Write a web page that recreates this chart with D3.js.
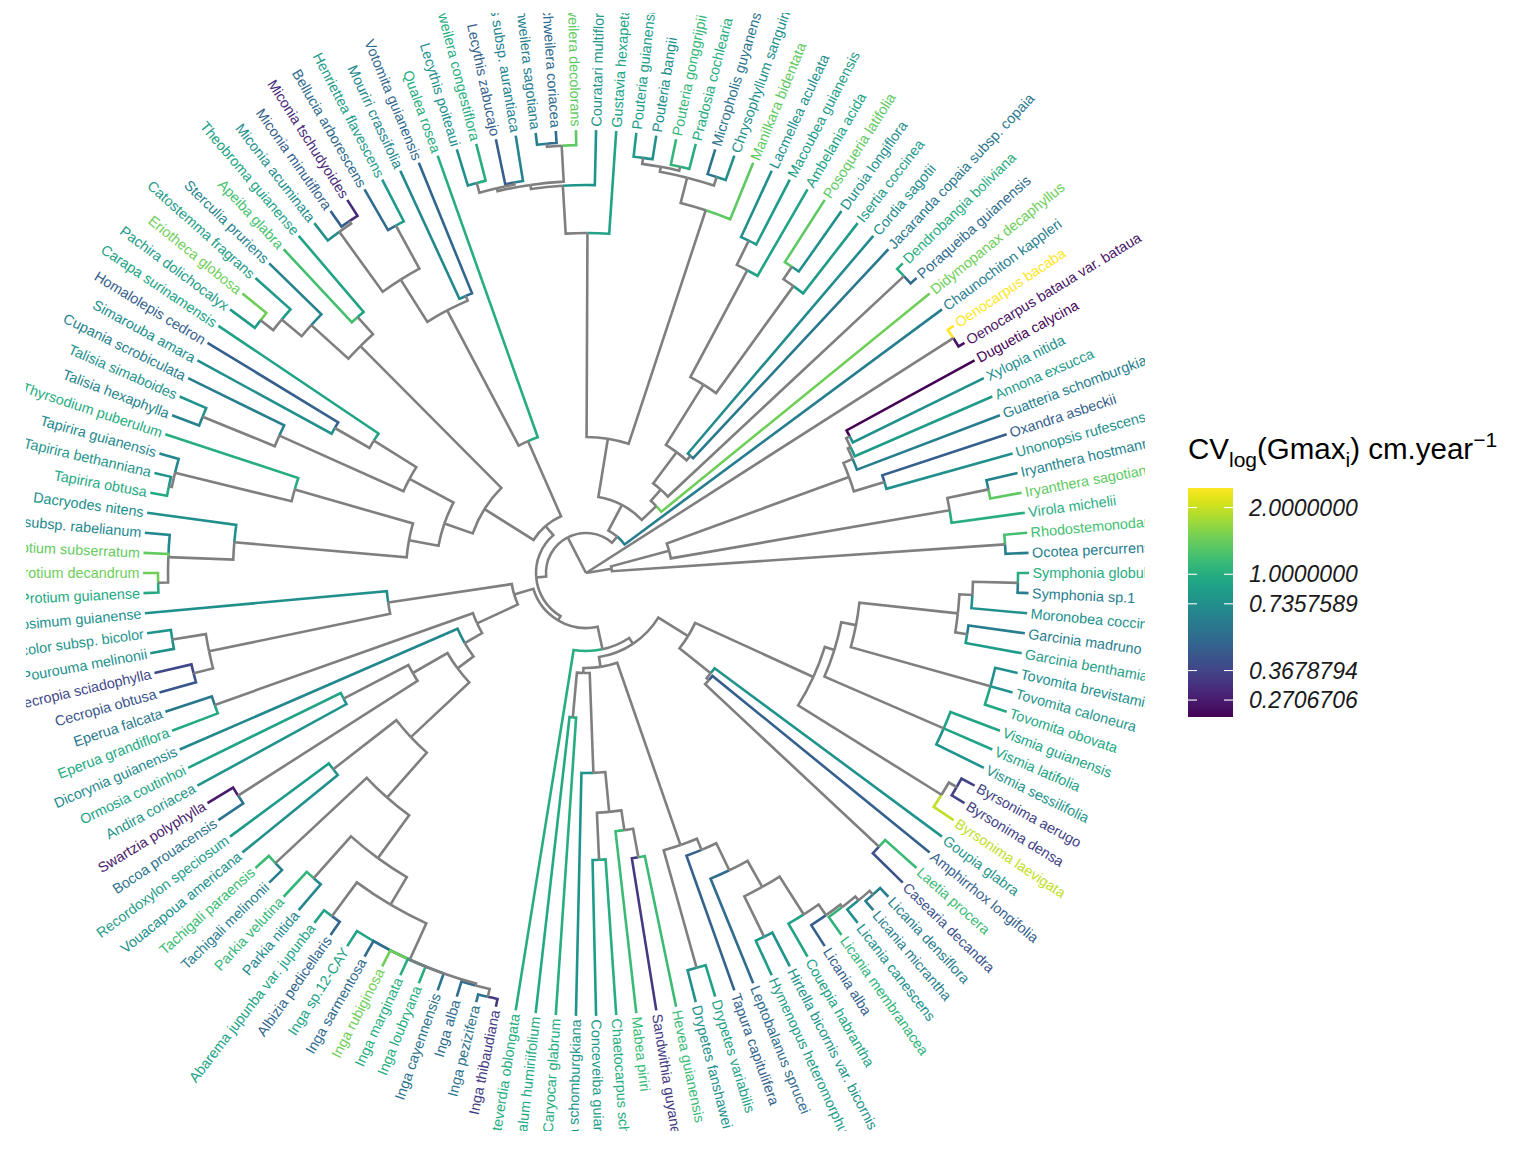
<!DOCTYPE html>
<html><head><meta charset="utf-8">
<script src="https://cdnjs.cloudflare.com/ajax/libs/d3/7.8.5/d3.min.js"></script>
<style>body{margin:0;background:#fff}svg{display:block}</style>
</head><body>
<svg id="chart" width="1536" height="1152"></svg>
<script>
// ---------------- DATA ----------------
const tipNames = [
"Ocotea percurrens","Rhodostemonodaphne grandis","Virola michelii","Iryanthera sagotiana","Iryanthera hostmannii",
"Unonopsis rufescens","Oxandra asbeckii","Guatteria schomburgkiana","Annona exsucca","Xylopia nitida",
"Duguetia calycina","Oenocarpus bataua var. bataua","Oenocarpus bacaba","Chaunochiton kappleri","Didymopanax decaphyllus",
"Poraqueiba guianensis","Dendrobangia boliviana","Jacaranda copaia subsp. copaia","Cordia sagotii","Isertia coccinea",
"Duroia longiflora","Posoqueria latifolia","Ambelania acida","Macoubea guianensis","Lacmellea aculeata",
"Manilkara bidentata","Chrysophyllum sanguinolentum","Micropholis guyanensis","Pradosia cochlearia","Pouteria gonggrijpii",
"Pouteria bangii","Pouteria guianensis","Gustavia hexapetala","Couratari multiflora","Eschweilera decolorans",
"Eschweilera coriacea","Eschweilera sagotiana","Lecythis persistens subsp. aurantiaca","Lecythis zabucajo","Eschweilera congestiflora",
"Lecythis poiteaui","Qualea rosea","Votomita guianensis","Mouriri crassifolia","Henriettea flavescens",
"Bellucia arborescens","Miconia tschudyoides","Miconia minutiflora","Miconia acuminata","Theobroma guianense",
"Apeiba glabra","Sterculia pruriens","Catostemma fragrans","Eriotheca globosa","Pachira dolichocalyx",
"Carapa surinamensis","Homalolepis cedron","Simarouba amara","Cupania scrobiculata","Talisia simaboides",
"Talisia hexaphylla","Thyrsodium puberulum","Tapirira guianensis","Tapirira bethanniana","Tapirira obtusa",
"Dacryodes nitens","Protium opacum subsp. rabelianum","Protium subserratum","Protium decandrum","Protium guianense",
"Brosimum guianense","Pourouma bicolor subsp. bicolor","Pourouma melinonii","Cecropia sciadophylla","Cecropia obtusa",
"Eperua falcata","Eperua grandiflora","Dicorynia guianensis","Ormosia coutinhoi","Andira coriacea",
"Swartzia polyphylla","Bocoa prouacensis","Recordoxylon speciosum","Vouacapoua americana","Tachigali paraensis",
"Tachigali melinonii","Parkia velutina","Parkia nitida","Abarema jupunba var. jupunba","Albizia pedicellaris",
"Inga sp.12-CAY","Inga sarmentosa","Inga rubiginosa","Inga marginata","Inga loubryana",
"Inga cayennensis","Inga alba","Inga pezizifera","Inga thibaudiana","Monteverdia oblongata",
"Hebepetalum humiriifolium","Caryocar glabrum","Pogonophora schomburgkiana","Conceveiba guianensis","Chaetocarpus schomburgkianus",
"Mabea piriri","Sandwithia guyanensis","Hevea guianensis","Drypetes fanshawei","Drypetes variabilis",
"Tapura capitulifera","Leptobalanus sprucei","Hymenopus heteromorphus","Hirtella bicornis var. bicornis","Couepia habrantha",
"Licania alba","Licania membranacea","Licania canescens","Licania micrantha","Licania densiflora",
"Casearia decandra","Laetia procera","Amphirrhox longifolia","Goupia glabra","Byrsonima laevigata",
"Byrsonima densa","Byrsonima aerugo","Vismia sessilifolia","Vismia latifolia","Vismia guianensis",
"Tovomita obovata","Tovomita caloneura","Tovomita brevistaminea","Garcinia benthamiana","Garcinia madruno",
"Moronobea coccinea","Symphonia sp.1","Symphonia globulifera"];

// CV_log(Gmax_i), one value per tip, same order as tipNames
const cvValues = [
0.62,1.2,1.0,1.36,0.66, 0.74,0.46,0.62,0.84,0.74,
0.227,0.255,2.45,0.62,1.45, 0.52,1.0,0.59,0.71,0.84,
0.74,1.36,0.9,0.84,0.74, 1.36,0.74,0.56,1.0,1.1,
0.74,0.84,0.9,0.78,1.36, 0.52,0.62,0.66,0.46,1.0,
0.74,1.0,0.5,0.69,0.84, 0.52,0.30,0.46,0.74,0.9,
1.2,0.66,0.84,1.45,0.84, 0.9,0.46,0.74,0.62,0.78,
0.66,1.0,0.69,0.78,0.95, 0.74,0.69,1.4,1.45,0.95,
0.74,0.78,0.74,0.38,0.43, 0.59,0.95,0.69,0.9,0.78,
0.27,0.56,0.84,0.74,1.15, 0.62,1.1,0.69,0.9,0.5,
0.9,0.52,1.45,1.0,1.0, 0.56,0.52,0.56,0.34,1.0,
0.95,1.0,0.78,0.84,1.0, 1.15,0.34,1.15,0.74,0.88,
0.48,0.52,0.84,0.78,0.9, 0.46,1.07,0.74,0.62,0.62,
0.41,1.15,0.46,0.78,1.95, 0.36,0.36,0.78,0.9,0.9,
0.95,0.78,0.74,0.84,0.62, 0.74,0.62,1.0];

// topology: tips are 1-based indices into tipNames, number after ")" = node age (Myr)
const magnoliids = "((1,2)11.5,((3,(4,5)16)37,((6,7)65.5,(8,(9,(10,11)73)75)76.5)81.5)178.5)208.5";
const monocots = "(12,13)3.5";
const superasterids = "(14,((15,((16,17)4,((18,19)143,((20,(21,22)37)44.5,(23,(24,25)36.5)50)110.5)146)165.5)173,((26,((27,28)13,((29,30)13,(31,32)12)15)17.5)30.5,(33,(34,((35,(36,37)6)7.5,((38,39)23,(40,41)19)24)25.5)27.5)51.5)153.5)183)197.5";
const malvids = "((42,((43,44)70.5,((45,46)23.5,((47,48)9.5,49)11)48)73)149.5,(((50,51)50,(52,(53,(54,55)15.5)23.5)36.5)61.5,(((56,(57,58)76.5)96.5,(59,(60,61)14.5)53.5)121.5,((62,(63,(64,65)8.5)10)70,(66,(67,68,(69,70)7.5)12.5)45)131.5)146.5)161.5)190.5";
const fabids = "(((71,((72,73)12,(74,75)19)29)121.5,((76,77)24.5,(78,(((79,80)85,(81,82)15)121.5,((83,84)61.5,((85,86)9,((87,88)17,((89,90)8,(91,92,93,94,95,96,(97,(98,99)4)8)9)29)45)71.5)101.5)141.5)151.5)161.5)184,(100,((((101,102)149,(103,((104,105)78,(106,(107,108)77)91.5)101.5)121.5)171.5,((109,110)16.5,(111,(112,((113,114)19,(115,(116,(117,(118,(119,120)6)8.5)11)12.5)19)41.5)56.5)71.5)77.5)174,((((121,122)21,123)140,124)141.5,((125,(126,127)7.5)12,((128,129,130)26.5,((131,132,133)11.5,((134,135)28.5,(136,(137,138)5.5)28)34.5)84)91.5)96.5)161.5)179)182.5)194";
const rosids = "(" + malvids + "," + fabids + ")196.5";
const eudicots = "(" + superasterids + "," + rosids + ")201.5";
const treeString = "(" + magnoliids + "," + monocots + "," + eudicots + ")221.5";

const legendBreaks = [0.2706706, 0.3678794, 0.7357589, 1, 2];
const legendLabels = ["0.2706706","0.3678794","0.7357589","1.0000000","2.0000000"];

// ---------------- PARSE ----------------
function parseTree(s){
  let i = 0;
  function node(){
    if (s[i] === "("){
      i++;
      const children = [];
      for(;;){
        children.push(node());
        if (s[i] === ","){ i++; continue; }
        if (s[i] === ")"){ i++; break; }
        throw new Error("parse error at " + i);
      }
      let num = "";
      while (i < s.length && /[0-9.]/.test(s[i])) num += s[i++];
      return {children, age: +num};
    }
    let num = "";
    while (i < s.length && /[0-9]/.test(s[i])) num += s[i++];
    return {tip: +num, age: 0};
  }
  return node();
}

const root = d3.hierarchy(parseTree(treeString), d => d.children);
const N = tipNames.length;
const ROOT_AGE = root.data.age;

// ---------------- LAYOUT ----------------
const cx = 586, cy = 573, R = 443;
const rScale = d3.scaleLinear().domain([ROOT_AGE, 0]).range([0, R]);
const step = 2 * Math.PI / N;
root.eachAfter(n => {
  n.r = rScale(n.data.age);
  if (!n.children) n.theta = n.data.tip * step;
  else n.theta = d3.mean(n.children, c => c.theta);
});

const lnMin = Math.log(d3.min(cvValues)), lnMax = Math.log(d3.max(cvValues));
const color = d3.scaleSequential(d3.interpolateViridis).domain([lnMin, lnMax]);
const tipColor = i => color(Math.log(cvValues[i - 1]));

const svg = d3.select("#chart");
svg.append("defs").append("clipPath").attr("id","panel")
  .append("rect").attr("x",26).attr("y",13).attr("width",1119).attr("height",1118);
const g = svg.append("g").attr("clip-path","url(#panel)");

const px = (r,t) => [cx + r*Math.cos(t), cy - r*Math.sin(t)];
function edgePath(n){
  const p = n.parent, path = d3.path();
  const a0 = -p.theta, a1 = -n.theta;
  const s = px(p.r, p.theta);
  path.moveTo(s[0], s[1]);
  if (p.r > 0 && Math.abs(a0 - a1) > 1e-9) path.arc(cx, cy, p.r, a0, a1, a1 < a0);
  const e = px(n.r, n.theta);
  if (p.r <= 0) { const b = px(0, n.theta); path.moveTo(b[0], b[1]); }
  path.lineTo(e[0], e[1]);
  return path.toString();
}

const nodes = root.descendants().filter(n => n.parent);
const leaves = nodes.filter(n => !n.children);
const inner = nodes.filter(n => n.children);

g.append("g").selectAll("path").data(leaves).join("path")
  .attr("d", edgePath).attr("fill","none")
  .attr("stroke", n => tipColor(n.data.tip)).attr("stroke-width", 2.6);
g.append("g").selectAll("path").data(inner).join("path")
  .attr("d", edgePath).attr("fill","none")
  .attr("stroke", "#7f7f7f").attr("stroke-width", 2.6);

// tip labels
g.append("g").selectAll("text").data(leaves).join("text")
  .attr("transform", n => {
    const [x,y] = px(R + 3.5, n.theta);
    const deg = n.theta * 180 / Math.PI;
    const rot = (deg > 90 && deg < 270) ? 180 - deg : -deg;
    return `translate(${x},${y}) rotate(${rot})`;
  })
  .attr("text-anchor", n => { const d = n.theta*180/Math.PI; return (d>90 && d<270) ? "end" : "start"; })
  .attr("dominant-baseline","central")
  .attr("font-family","'Liberation Sans', Arial, Helvetica, sans-serif")
  .attr("font-size", 14.4)
  .attr("fill", n => tipColor(n.data.tip))
  .text(n => tipNames[n.data.tip - 1]);

// ---------------- LEGEND ----------------
const lg = svg.append("g").attr("font-family","'Liberation Sans', Arial, Helvetica, sans-serif");
const title = lg.append("text").attr("x",1188).attr("y",459).attr("font-size",29.5).attr("fill","#000");
title.append("tspan").text("CV");
title.append("tspan").attr("font-size",21).attr("dy",8).text("log");
title.append("tspan").attr("dy",-8).text("(Gmax");
title.append("tspan").attr("font-size",21).attr("dy",8).text("i");
title.append("tspan").attr("dy",-8).text(") cm.year");
title.append("tspan").attr("font-size",21).attr("dy",-12).text("\u22121");

const barX = 1188, barW = 45, barTop = 488, barBot = 717;
const yLeg = d3.scaleLinear().domain([lnMin, lnMax]).range([barBot, barTop]);
const grad = svg.select("defs").append("linearGradient").attr("id","vgrad")
  .attr("x1",0).attr("y1",1).attr("x2",0).attr("y2",0);
d3.range(0, 1.0001, 0.05).forEach(t => grad.append("stop").attr("offset", t)
  .attr("stop-color", color(lnMin + t*(lnMax-lnMin))));
lg.append("rect").attr("x",barX).attr("y",barTop).attr("width",barW).attr("height",barBot-barTop)
  .attr("fill","url(#vgrad)");
legendBreaks.forEach((b,i) => {
  const y = yLeg(Math.log(b));
  lg.append("line").attr("x1",barX).attr("x2",barX+9).attr("y1",y).attr("y2",y).attr("stroke","#fff").attr("stroke-width",1.1);
  lg.append("line").attr("x1",barX+barW-9).attr("x2",barX+barW).attr("y1",y).attr("y2",y).attr("stroke","#fff").attr("stroke-width",1.1);
  lg.append("text").attr("x",1249).attr("y",y).attr("dominant-baseline","central")
    .attr("font-size",23).attr("font-style","italic").attr("fill","#1a1a1a").text(legendLabels[i]);
});
</script>
</body></html>
